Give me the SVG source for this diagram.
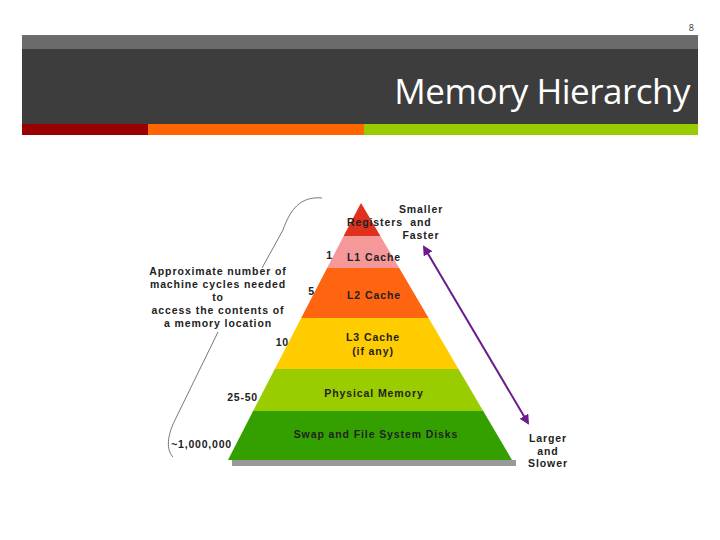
<svg xmlns="http://www.w3.org/2000/svg" width="720" height="540" viewBox="0 0 720 540">
<style>
.t{font-family:"Liberation Sans",Arial,sans-serif;font-weight:bold;font-size:10.5px;letter-spacing:0.9px;fill:#222;text-anchor:middle}
.n{font-family:"Liberation Sans",Arial,sans-serif;font-weight:bold;font-size:10.5px;letter-spacing:0.8px;fill:#222;text-anchor:end}
</style>
<defs>
<marker id="ah" viewBox="0 0 10 10" refX="8" refY="5" markerWidth="5" markerHeight="5" orient="auto-start-reverse"><path d="M0,0L10,5L0,10z" fill="#6b1b8a"/></marker>
</defs>
<rect width="720" height="540" fill="#fff"/>
<g id="header">
<rect x="22" y="35" width="676" height="14" fill="#6b6b6b"/>
<rect x="22" y="49" width="676" height="75" fill="#3d3d3d"/>
<rect x="22" y="124" width="126" height="11" fill="#990000"/>
<rect x="148" y="124" width="216" height="11" fill="#ff6600"/>
<rect x="364" y="124" width="334" height="11" fill="#99cc00"/>
<text x="690" y="104" font-family="Open Sans,sans-serif" font-size="35" fill="#fff" text-anchor="end" letter-spacing="-0.5">Memory Hierarchy</text>
<text x="694" y="31" font-family="Open Sans,sans-serif" font-size="9" fill="#333" text-anchor="end">8</text>
</g>
<g id="pyramid">
<polygon points="232,460 516,460 516,466 232,466" fill="#999"/>
<polygon id="registers" points="361,203 380.4,236 343.6,236" fill="#e0301e"/>
<polygon id="l1" points="343.6,236 380.4,236 399.2,268 327.1,268" fill="#f4989a"/>
<polygon id="l2" points="327.1,268 399.2,268 428.6,318 301.2,318" fill="#ff6411"/>
<polygon id="l3" points="301.2,318 428.6,318 458.5,369 274.8,369" fill="#ffcc00"/>
<polygon id="phys" points="274.8,369 458.5,369 483.2,411 253.1,411" fill="#9acd00"/>
<polygon id="swap" points="253.1,411 483.2,411 512,460 228,460" fill="#34a000"/>
<text class="t" x="375" y="226">Registers</text>
<text class="t" x="374" y="261">L1 Cache</text>
<text class="t" x="374" y="299">L2 Cache</text>
<text class="t" x="373" y="341">L3 Cache</text>
<text class="t" x="373" y="355">(if any)</text>
<text class="t" x="374" y="397">Physical Memory</text>
<text class="t" x="376" y="438">Swap and File System Disks</text>
</g>
<g id="labels">
<text class="t" x="421" y="213">Smaller</text>
<text class="t" x="421" y="226">and</text>
<text class="t" x="421" y="239">Faster</text>
<text class="t" x="548" y="442">Larger</text>
<text class="t" x="548" y="455">and</text>
<text class="t" x="548" y="467">Slower</text>
<text class="t" x="218" y="275">Approximate number of</text>
<text class="t" x="218" y="288">machine cycles needed</text>
<text class="t" x="218" y="301">to</text>
<text class="t" x="218" y="314">access the contents of</text>
<text class="t" x="218" y="327">a memory location</text>
<text class="n" x="333" y="259">1</text>
<text class="n" x="315" y="295">5</text>
<text class="n" x="289" y="346">10</text>
<text class="n" x="258" y="401">25-50</text>
<text class="n" x="232" y="448">~1,000,000</text>
</g>
<g id="connectors" fill="none">
<path d="M322,198 C300,196 290,210 283,230 L262,268" stroke="#555" stroke-width="0.8"/>
<path d="M218,332 L175,420 C165,440 168,452 173,457" stroke="#555" stroke-width="0.8"/>
<line x1="424" y1="247" x2="528" y2="423" stroke="#6b1b8a" stroke-width="2" marker-start="url(#ah)" marker-end="url(#ah)"/>
</g>
</svg>
